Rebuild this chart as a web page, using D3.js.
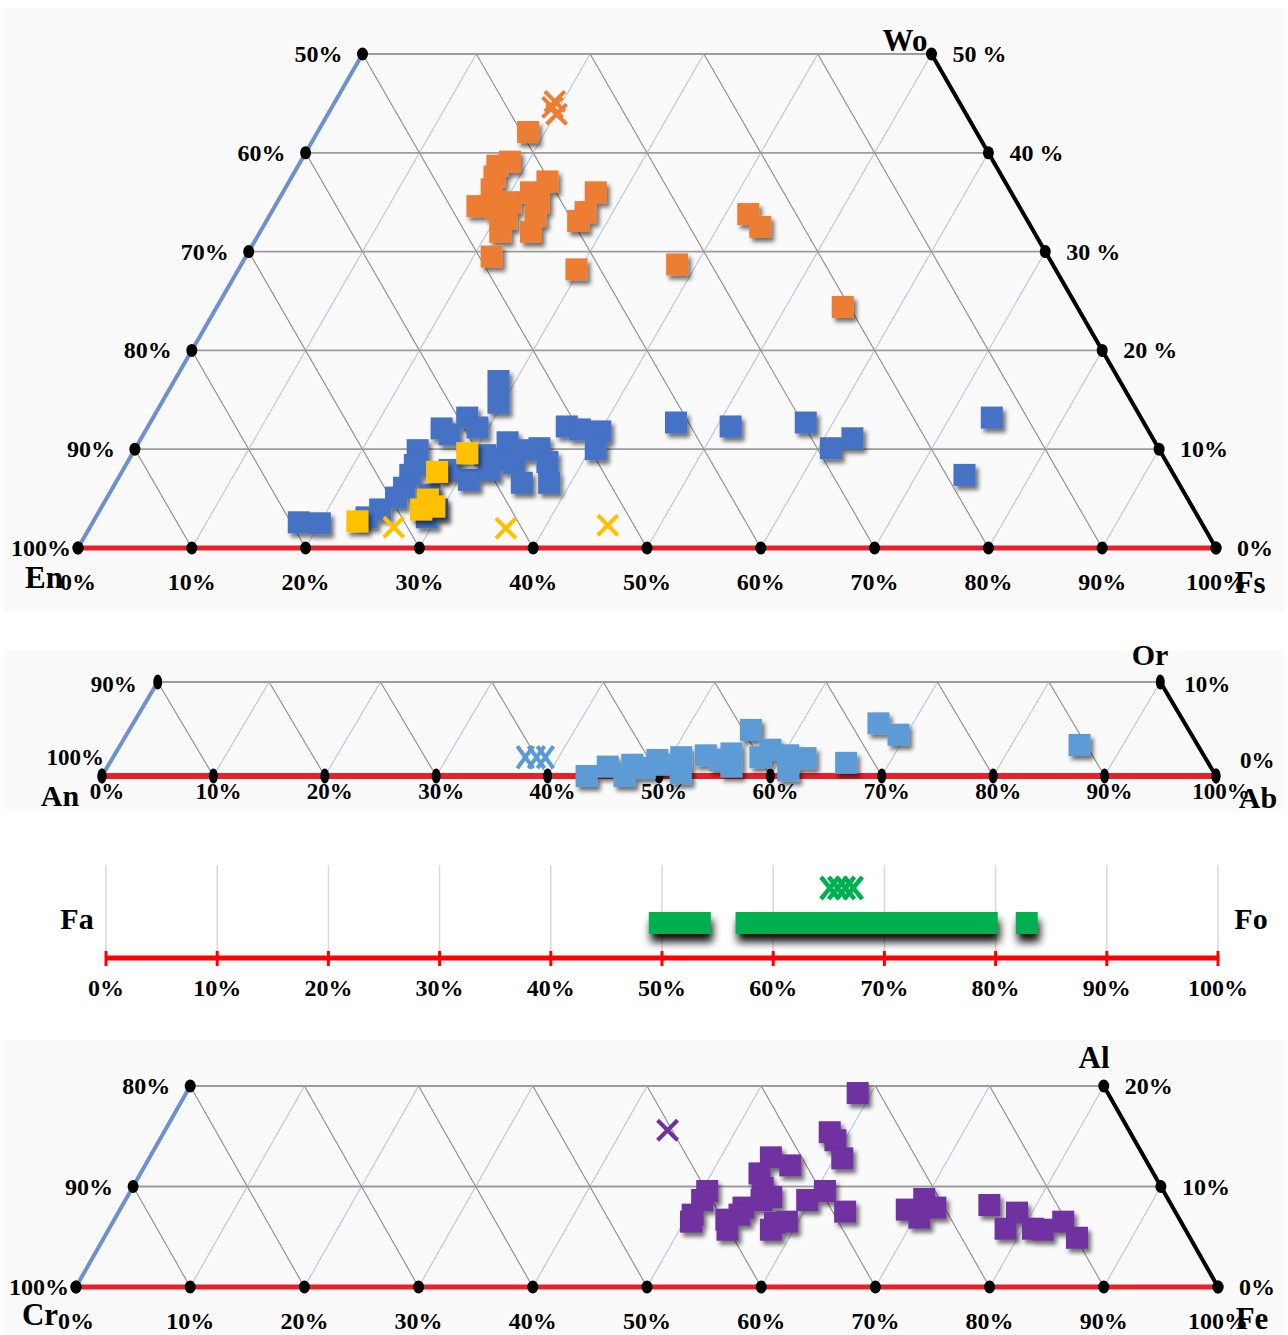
<!DOCTYPE html>
<html><head><meta charset="utf-8">
<script src="https://cdn.jsdelivr.net/npm/d3@7"></script>
<style>
body{margin:0;background:#fff}
svg{display:block}
text{font-family:"Liberation Serif","Times New Roman",serif;font-weight:bold;fill:#000}
</style>
</head><body>
<svg id="c" width="1288" height="1335"></svg>
<script>
// ---------- DATA ----------
const pctTicks = [0,10,20,30,40,50,60,70,80,90,100];
const pctLabels = ["0%","10%","20%","30%","40%","50%","60%","70%","80%","90%","100%"];

// Pyroxene (Fs %, Wo %)
const pyxLeftValues = [50,60,70,80,90,100];
const pyxLeftLabels = ["50%","60%","70%","80%","90%","100%"];
const pyxRightValues = [50,40,30,20,10,0];
const pyxRightLabels = ["50 %","40 %","30 %","20 %","10%","0%"];
const orangeSquares = [[18.5,42.1],[18.4,39.1],[17.5,38.7],[17.8,37.6],[18.2,36.3],[17.8,34.6],[19.6,34.3],[20.5,35.0],[21.8,36.0],[22.7,37.1],[23.0,35.0],[23.4,33.6],[23.8,32.0],[21.1,32.0],[21.6,29.5],[27.5,36.0],[27.6,34.0],[27.4,33.1],[29.7,28.2],[21.0,33.3],[42.0,33.8],[43.7,32.5],[38.3,28.7],[55.0,24.4]];
const orangeCrosses = [[19.3,45.2],[20.1,43.9],[19.4,44.6]];
const blueSquares = [[28.5,16.9],[29.6,14.7],[27.6,13.2],[25.9,12.1],[29.0,12.2],[24.9,9.9],[26.9,11.5],[32.4,10.7],[35.5,10.1],[36.9,8.7],[32.2,7.9],[30.9,6.9],[35.7,6.6],[38.1,6.6],[25.5,7.4],[25.6,6.1],[25.4,5.1],[24.6,3.9],[23.8,3.1],[29.6,3.9],[29.1,3.1],[18.1,2.6],[20.0,2.5],[36.8,12.3],[40.0,11.8],[40.5,10.0],[38.1,12.0],[34.0,8.6],[28.7,7.9],[25.4,8.4],[28.2,5.4],[33.1,8.9],[31.1,9.4],[34.3,9.9],[46.2,12.7],[51.2,12.3],[57.6,12.7],[61.1,10.1],[62.5,11.1],[73.7,13.2],[74.2,7.4]];
const yellowSquares = [[23.2,2.7],[27.7,7.7],[29.4,9.6],[28.3,4.9],[28.2,3.9],[29.2,4.2]];
const yellowCrosses = [[26.7,2.1],[36.6,2.0],[45.4,2.3]];

// Feldspar (Ab %, Or %)
const fspLeftValues = [90,100];
const fspLeftLabels = ["90%","100%"];
const fspRightValues = [10,0];
const fspRightLabels = ["10%","0%"];
const feldsparSquares = [[43.5,0],[44.9,1.0],[47.0,1.2],[49.0,1.7],[51.0,2.0],[53.1,2.2],[55.3,2.4],[55.8,4.9],[60.5,2.2],[62.2,1.9],[66.1,1.4],[66.9,5.6],[69.3,4.4],[86.1,3.3],[46.9,0],[51.8,0.3],[56.0,1.0],[61.3,0.6],[48.3,0.85],[58.1,2.0],[58.6,2.8],[54.6,1.7],[49.9,1.2]];
const feldsparCrosses = [[37.0,2.0],[38.8,2.0],[38.0,2.0]];

// Olivine (Fo %)
const olivineSquares = [49.8,50.9,52.3,53.4,57.6,58.5,59.5,60.3,61.2,62.0,62.4,62.8,63.5,64.4,65.3,66.0,66.6,66.8,67.5,68.3,69.0,69.8,70.5,71.2,71.6,72.0,72.4,72.7,73.5,74.3,75.2,76.0,76.8,77.6,78.4,79.2,82.8];
const olivineCrosses = [65.1,65.8,66.5,67.2];

// Spinel (Fe %, Al %)
const splLeftValues = [80,90,100];
const splLeftLabels = ["80%","90%","100%"];
const splRightValues = [20,10,0];
const splRightLabels = ["20%","10%","0%"];
const purpleSquares = [[58.8,19.3],[58.3,15.4],[59.2,14.6],[60.7,12.8],[54.4,12.9],[56.5,12.1],[54.2,11.3],[55.2,9.85],[50.5,9.55],[50.5,8.66],[50.4,7.2],[50.6,6.5],[53.6,6.7],[54.2,5.7],[54.5,7.9],[54.5,7.2],[55.7,8.66],[56.4,8.96],[58.0,6.4],[59.0,6.5],[58.0,5.7],[59.7,8.66],[60.8,9.55],[63.6,7.5],[68.9,7.7],[69.9,8.76],[71.3,7.9],[70.4,6.9],[75.9,8.16],[78.5,5.8],[78.7,7.4],[80.9,5.8],[81.8,5.7],[83.2,6.5],[85.2,4.9]];
const purpleCrosses = [[44.0,15.6]];

// ---------- DRAW ----------
const svg = d3.select("#c");
const defs = svg.append("defs");
const f1 = defs.append("filter").attr("id","sh").attr("x","-50%").attr("y","-50%").attr("width","200%").attr("height","200%");
f1.append("feDropShadow").attr("dx",3).attr("dy",4).attr("stdDeviation",2.2).attr("flood-color","#000").attr("flood-opacity",0.55);
const f2 = defs.append("filter").attr("id","sh2").attr("x","-50%").attr("y","-50%").attr("width","200%").attr("height","300%");
f2.append("feDropShadow").attr("dx",2).attr("dy",8).attr("stdDeviation",4).attr("flood-color","#000").attr("flood-opacity",0.95);

[[4,8,1280,604],[4,650,1280,160],[4,1040,1280,295]].forEach(r=>{
  svg.append("rect").attr("x",r[0]).attr("y",r[1]).attr("width",r[2]).attr("height",r[3]).attr("fill","#fafafa");
});

const SQ = 22;
function squares(g, pts, px, color, size, filt){
  const gg = g.append("g").attr("filter", filt ? `url(#${filt})` : null);
  gg.selectAll("rect").data(pts).join("rect")
    .attr("x", d=>px(d)[0]-size/2).attr("y", d=>px(d)[1]-size/2)
    .attr("width", size).attr("height", size).attr("fill", color);
}
function crosses(g, pts, px, color, hw, hh, sw){
  g.append("g").selectAll("path").data(pts).join("path")
    .attr("d", d=>{const [x,y]=px(d);return `M${x-hw},${y-hh}L${x+hw},${y+hh}M${x-hw},${y+hh}L${x+hw},${y-hh}`;})
    .attr("stroke", color).attr("stroke-width", sw).attr("fill","none");
}

function ternary(cfg){
  const g = svg.append("g");
  const xs = d3.scaleLinear().domain([0,100]).range([cfg.x0,cfg.x1]);
  const ys = d3.scaleLinear().domain([0,100]).range([cfg.y0,cfg.y0-cfg.hFull]);
  const pt = (f,w)=>[xs(f+w/2), ys(w)];
  const line = (a,b,stroke,sw)=>g.append("line").attr("x1",a[0]).attr("y1",a[1]).attr("x2",b[0]).attr("y2",b[1]).attr("stroke",stroke).attr("stroke-width",sw);
  cfg.levels.forEach(L=>line(pt(0,L),pt(100-L,L),"#9c9c9c",1.8));
  pctTicks.forEach(t=>{
    if(t>0 && t<100){
      const wb = Math.min(cfg.top, 100-t);
      line(pt(t,0), pt(t,wb), "#b4c6e6", 1.1);
      const wg = Math.min(cfg.top, t);
      line(pt(t,0), pt(t-wg,wg), "#8c8c8c", 1.1);
    }
  });
  line(pt(0,0),pt(0,cfg.top),"#6f90cf",4);
  line(pt(100,0),pt(100-cfg.top,cfg.top),"#000",4);
  line(pt(0,0),pt(100,0),"#e8202a",cfg.redW);
  const dots = [];
  pctTicks.forEach(t=>dots.push(pt(t,0)));
  cfg.leftValues.forEach(v=>dots.push(pt(0,100-v)));
  cfg.rightValues.forEach(v=>dots.push(pt(100-v,v)));
  g.append("g").selectAll("ellipse").data(dots).join("ellipse")
    .attr("cx",d=>d[0]).attr("cy",d=>d[1]).attr("rx",cfg.rx).attr("ry",cfg.ry).attr("fill","#000");
  const fs = cfg.fs;
  g.append("g").selectAll("text").data(pctTicks).join("text")
    .attr("x",(d)=>xs(d)+cfg.bdx).attr("y",cfg.y0+cfg.bdy).attr("text-anchor","middle").attr("dominant-baseline","central")
    .attr("font-size",fs).text((d,i)=>pctLabels[i]);
  g.append("g").selectAll("text").data(cfg.leftValues).join("text")
    .attr("x",(d,i)=>pt(0,100-d)[0]-cfg.ldx[i]).attr("y",(d,i)=>pt(0,100-d)[1]+(cfg.ldy?cfg.ldy[i]:0)).attr("text-anchor","end").attr("dominant-baseline","central")
    .attr("font-size",fs).text((d,i)=>cfg.leftLabels[i]);
  g.append("g").selectAll("text").data(cfg.rightValues).join("text")
    .attr("x",d=>pt(100-d,d)[0]+cfg.rdx).attr("y",(d,i)=>pt(100-d,d)[1]+(cfg.rdy?cfg.rdy[i]:0)).attr("text-anchor","start").attr("dominant-baseline","central")
    .attr("font-size",fs).text((d,i)=>cfg.rightLabels[i]);
  cfg.names.forEach(n=>g.append("text").attr("x",n[1]).attr("y",n[2]).attr("text-anchor","middle").attr("dominant-baseline","central").attr("font-size",cfg.nfs).text(n[0]));
  return {g, px:d=>pt(d[0],d[1])};
}

// Panel 1: pyroxene
const p1 = ternary({x0:78,x1:1216,y0:548,hFull:988,top:50,levels:[10,20,30,40,50],
  leftValues:pyxLeftValues,leftLabels:pyxLeftLabels,rightValues:pyxRightValues,rightLabels:pyxRightLabels,
  rx:5.5,ry:6.5,fs:24,bdx:0,bdy:34,ldx:[20,20,20,20,20,7],rdx:21,redW:5,nfs:31,
  names:[["En",44,577],["Fs",1250,582],["Wo",905,40]]});
squares(p1.g, orangeSquares, p1.px, "#ed7d31", SQ, "sh");
crosses(p1.g, orangeCrosses, p1.px, "#ed7d31", 10, 10, 4);
squares(p1.g, blueSquares, p1.px, "#4472c4", SQ, "sh");
squares(p1.g, yellowSquares, p1.px, "#ffc000", SQ, "sh");
crosses(p1.g, yellowCrosses, p1.px, "#ffc000", 10, 10, 4);

// Panel 2: feldspar
const p2 = ternary({x0:102,x1:1216,y0:776,hFull:940,top:10,levels:[10],
  leftValues:fspLeftValues,leftLabels:fspLeftLabels,rightValues:fspRightValues,rightLabels:fspRightLabels,
  rx:4.5,ry:7.5,fs:23,bdx:5,bdy:15,ldx:[21,-2],rdx:24,ldy:[2,-19],rdy:[2,-16],redW:6,nfs:30,
  names:[["An",60,795],["Ab",1258,797],["Or",1150,654]]});
squares(p2.g, feldsparSquares, p2.px, "#5b9bd5", SQ, "sh");
crosses(p2.g, feldsparCrosses, p2.px, "#5b9bd5", 8, 11, 4);

// Panel 3: olivine
(function(){
  const g = svg.append("g");
  const xs = d3.scaleLinear().domain([0,100]).range([106,1218]);
  const yAxis = 958;
  g.append("g").selectAll("line").data(pctTicks).join("line")
    .attr("x1",d=>xs(d)).attr("x2",d=>xs(d)).attr("y1",865).attr("y2",951).attr("stroke","#d9d9d9").attr("stroke-width",1.5);
  g.append("line").attr("x1",xs(0)).attr("x2",xs(100)).attr("y1",yAxis).attr("y2",yAxis).attr("stroke","#ff0000").attr("stroke-width",5);
  g.append("g").selectAll("line").data(pctTicks).join("line")
    .attr("x1",d=>xs(d)).attr("x2",d=>xs(d)).attr("y1",951).attr("y2",966).attr("stroke","#ff0000").attr("stroke-width",3);
  g.append("g").selectAll("text").data(pctTicks).join("text")
    .attr("x",d=>xs(d)).attr("y",988).attr("text-anchor","middle").attr("dominant-baseline","central").attr("font-size",24)
    .text((d,i)=>pctLabels[i]);
  g.append("text").attr("x",77).attr("y",918).attr("text-anchor","middle").attr("dominant-baseline","central").attr("font-size",30).text("Fa");
  g.append("text").attr("x",1251).attr("y",918).attr("text-anchor","middle").attr("dominant-baseline","central").attr("font-size",30).text("Fo");
  const px = d=>[xs(d), 923];
  squares(g, olivineSquares, px, "#00b050", SQ, "sh2");
  crosses(g, olivineCrosses, d=>[xs(d),888], "#00b050", 9, 11, 4.5);
})();

// Panel 4: spinel
const p4 = ternary({x0:76,x1:1218,y0:1287,hFull:1005,top:20,levels:[10,20],
  leftValues:splLeftValues,leftLabels:splLeftLabels,rightValues:splRightValues,rightLabels:splRightLabels,
  rx:5.5,ry:6.5,fs:24,bdx:0,bdy:34,ldx:[20,20,7],rdx:21,redW:5,nfs:31,
  names:[["Cr",40,1314],["Fe",1252,1318],["Al",1094,1057]]});
squares(p4.g, purpleSquares, p4.px, "#7030a0", SQ, "sh");
crosses(p4.g, purpleCrosses, p4.px, "#7030a0", 10, 10, 4);
</script>
</body></html>
